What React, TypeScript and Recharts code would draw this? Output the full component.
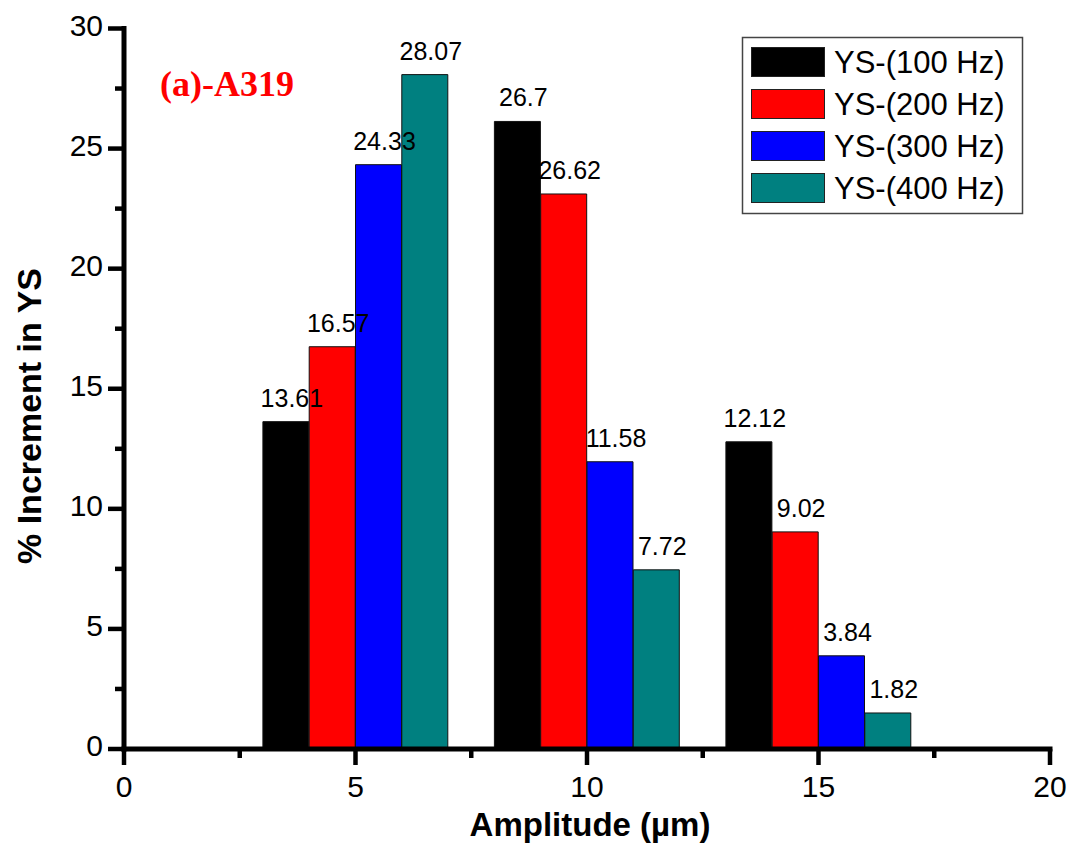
import { BarChart, Bar, XAxis, YAxis, LabelList } from "recharts";

// amplitude groups (µm)
const amplitudes = [5, 10, 15];

const seriesNames = ["YS-(100 Hz)", "YS-(200 Hz)", "YS-(300 Hz)", "YS-(400 Hz)"];
const seriesColors = ["#000000", "#ff0000", "#0000ff", "#008080"];

// bar heights as drawn in the figure
const ys100 = [13.63, 26.13, 12.79];
const ys200 = [16.75, 23.11, 9.04];
const ys300 = [24.33, 11.96, 3.88];
const ys400 = [28.08, 7.46, 1.5];

// numbers printed above the bars
const ys100Labels = ["13.61", "26.7", "12.12"];
const ys200Labels = ["16.57", "26.62", "9.02"];
const ys300Labels = ["24.33", "11.58", "3.84"];
const ys400Labels = ["28.07", "7.72", "1.82"];

const xTicks = [0, 2.5, 5, 7.5, 10, 12.5, 15, 17.5, 20];
const yTicks = [0, 2.5, 5, 7.5, 10, 12.5, 15, 17.5, 20, 22.5, 25, 27.5, 30];

const seriesValues = [ys100, ys200, ys300, ys400];
const seriesLabels = [ys100Labels, ys200Labels, ys300Labels, ys400Labels];

// one unit-wide slot per x interval; each bar fills one slot
const rows: any[] = Array.from({ length: 20 }, (_, i) => ({ slot: i + 0.5 }));
amplitudes.forEach((a, g) => {
  seriesValues.forEach((vals, k) => {
    const row = rows[a - 2 + k];
    row[`v${k}`] = vals[g];
    row[`l${k}`] = seriesLabels[k][g];
    row.group = g;
  });
});

const FONT = '"Liberation Sans", Arial, sans-serif';

const XTick = (props: any) => {
  const { x, y, payload } = props;
  const v = payload.value;
  const major = v % 5 === 0;
  return (
    <g>
      <line x1={x} x2={x} y1={y} y2={y + (major ? 16 : 9)} stroke="#000" strokeWidth={4.5} />
      {major && (
        <text x={x} y={y + 48} textAnchor="middle" fontSize={30} fontFamily={FONT} fill="#000">
          {v}
        </text>
      )}
    </g>
  );
};

const YTick = (props: any) => {
  const { x, y, payload } = props;
  const v = payload.value;
  const major = v % 5 === 0;
  return (
    <g>
      <line x1={x} x2={x - (major ? 16 : 9)} y1={y} y2={y} stroke="#000" strokeWidth={4.5} />
      {major && (
        <text x={x - 21} y={y + 7} textAnchor="end" fontSize={30} fontFamily={FONT} fill="#000">
          {v}
        </text>
      )}
    </g>
  );
};

const renderValueLabel = (props: any) => {
  const vb = props.viewBox && props.viewBox.x != null ? props.viewBox : props;
  const text = props.value;
  if (text == null || text === "" || vb.x == null || !vb.height) return null;
  const row = props.index != null ? rows[props.index] : null;
  const group = row ? row.group : vb.x < 470 ? 0 : 1;
  const shift = group === 0 ? -8 : 6;
  return (
    <text
      x={vb.x + vb.width / 2 + shift}
      y={vb.y - 15}
      textAnchor="middle"
      fontSize={25}
      fontFamily={FONT}
      fill="#000"
    >
      {text}
    </text>
  );
};

const frameLine = { stroke: "#000", strokeWidth: 5, strokeLinecap: "square" as const };

export default function App() {
  return (
    <div style={{ position: "absolute", left: 0, top: 0, width: 1073, height: 857, background: "#fff" }}>
      <BarChart
        width={1073}
        height={857}
        data={rows}
        barCategoryGap={0}
        barGap={0}
        margin={{ top: 28.5, right: 23, bottom: 28, left: 24 }}
        style={{ fontFamily: FONT }}
      >
        <XAxis
          xAxisId="num"
          dataKey="slot"
          type="number"
          domain={[0, 20]}
          ticks={xTicks}
          interval={0}
          height={80}
          tickSize={0}
          tickMargin={0}
          tickLine={false}
          axisLine={frameLine}
          tick={<XTick />}
        />
        <XAxis xAxisId="cat" dataKey="slot" type="category" height={0} hide />
        <XAxis
          xAxisId="top"
          orientation="top"
          dataKey="slot"
          type="number"
          domain={[0, 20]}
          height={0}
          tick={false}
          tickLine={false}
          axisLine={frameLine}
        />
        <YAxis
          type="number"
          domain={[0, 30]}
          ticks={yTicks}
          interval={0}
          width={100}
          tickSize={0}
          tickMargin={0}
          tickLine={false}
          axisLine={frameLine}
          tick={<YTick />}
        />
        <YAxis
          yAxisId="right"
          orientation="right"
          type="number"
          domain={[0, 30]}
          width={0}
          tick={false}
          tickLine={false}
          axisLine={frameLine}
        />
        {seriesNames.map((name, k) => (
          <Bar
            key={name}
            name={name}
            xAxisId="cat"
            dataKey={`v${k}`}
            stackId="ys"
            fill={seriesColors[k]}
            stroke="#111"
            strokeWidth={1}
            isAnimationActive={false}
          >
            <LabelList dataKey={`l${k}`} content={renderValueLabel} />
          </Bar>
        ))}
      </BarChart>

      <svg
        width={1073}
        height={857}
        style={{ position: "absolute", left: 0, top: 0, pointerEvents: "none" }}
      >
        <text
          x={160}
          y={96}
          fontSize={36}
          fontWeight="bold"
          fontFamily='"Liberation Serif", "Times New Roman", serif'
          fill="#ff0000"
        >
          (a)-A319
        </text>
        <text x={590} y={836} textAnchor="middle" fontSize={33} fontWeight="bold" fontFamily={FONT} fill="#000">
          Amplitude (µm)
        </text>
        <text
          x={41}
          y={416}
          transform="rotate(-90 41 416)"
          textAnchor="middle"
          fontSize={34}
          fontWeight="bold"
          fontFamily={FONT}
          fill="#000"
        >
          % Increment in YS
        </text>
        <g>
          <rect x={742.5} y={37.5} width={280} height={176} fill="#fff" stroke="#444" strokeWidth={1.5} />
          {seriesNames.map((name, k) => (
            <g key={name}>
              <rect x={751.5} y={47.5 + k * 42} width={73} height={29} fill={seriesColors[k]} stroke="#222" strokeWidth={1} />
              <text x={834} y={73 + k * 42} fontSize={31} fontFamily={FONT} fill="#000">
                {name}
              </text>
            </g>
          ))}
        </g>
      </svg>
    </div>
  );
}
